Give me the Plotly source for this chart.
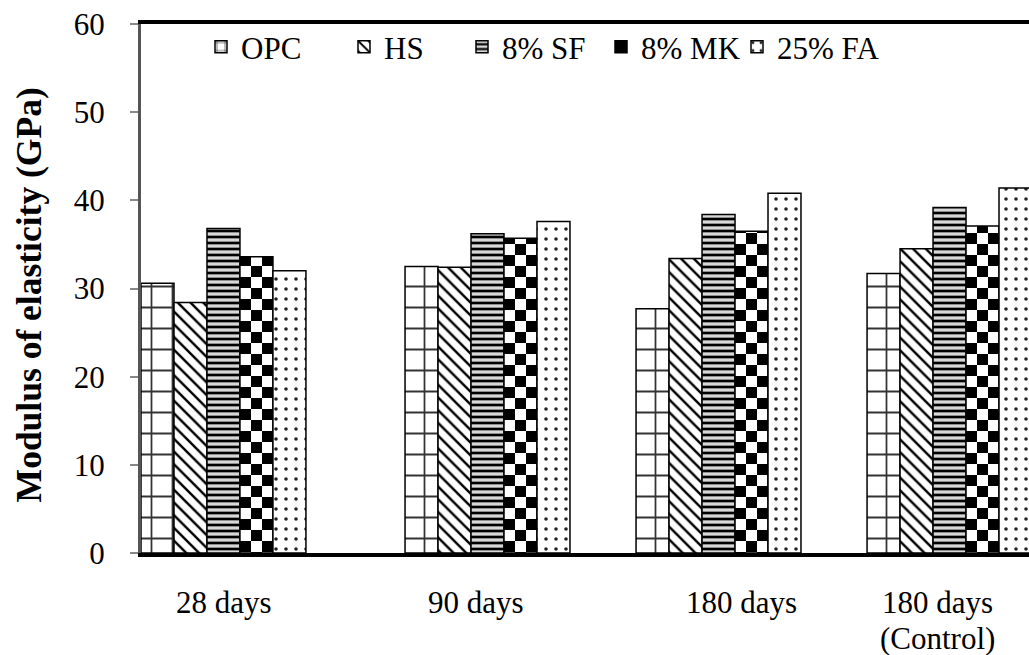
import plotly.graph_objects as go

# Curing ages (category labels) and modulus of elasticity per binder, GPa
categories = ["28 days", "90 days", "180 days", "180 days<br>(Control)"]
series_names = ["OPC", "HS", "8% SF", "8% MK", "25% FA"]
opc = [30.6, 32.5, 27.7, 31.7]
hs = [28.4, 32.4, 33.4, 34.5]
sf = [36.8, 36.2, 38.4, 39.2]
mk = [33.6, 35.7, 36.5, 37.1]
fa = [32.0, 37.6, 40.8, 41.4]
y_ticks = [0, 10, 20, 30, 40, 50, 60]

# Layout: where each age group sits on the x axis, and where its label goes
group_centres = [0.857, 2, 3, 4]
label_centres = [0.86, 1.95, 3.10, 3.95]
# Left edge (px) of each legend entry along the top of the plot
legend_left_px = [201, 344, 462, 601, 737]

FONT = "Liberation Serif, Times New Roman, serif"
PLOT_L, PLOT_W, PLOT_T, PLOT_H = 141, 888, 24, 529
LABEL_Y0, LABEL_DY = 602, 36  # px centre of first label line, line pitch

patterns = [
    dict(shape="+", size=21, solidity=0.16, fgcolor="#333333", bgcolor="white", fgopacity=1),
    dict(shape="\\", size=9, solidity=0.27, fgcolor="black", bgcolor="white", fgopacity=1),
    dict(shape="-", size=6, solidity=0.45, fgcolor="black", bgcolor="#d8d8d8", fgopacity=1),
    dict(path="M0,0H11V11H0Z M11,11H22V22H11Z", size=22, fgcolor="black",
         bgcolor="white", fgopacity=1, solidity=1),
    dict(shape=".", size=10, solidity=0.1, fgcolor="#222222", bgcolor="white", fgopacity=1),
]

fig = go.Figure()
legend_ids = ["legend", "legend2", "legend3", "legend4", "legend5"]
for name, vals, pat, lg in zip(series_names, [opc, hs, sf, mk, fa], patterns, legend_ids):
    fig.add_trace(go.Bar(
        x=group_centres, y=vals, name=name, legend=lg,
        marker=dict(color="white", pattern=pat,
                    line=dict(color="black", width=1.5)),
    ))

legend_style = dict(orientation="h", xanchor="left", y=0.9565, yanchor="middle",
                    bgcolor="rgba(0,0,0,0)", font=dict(family=FONT, size=31),
                    itemwidth=30)
legends = {lg: dict(legend_style, x=(px - PLOT_L) / PLOT_W)
           for lg, px in zip(legend_ids, legend_left_px)}


def paper_y(px):
    return (PLOT_T + PLOT_H - px) / PLOT_H


# Category labels under the axis, one annotation per text line
annotations = []
for cat, xc in zip(categories, label_centres):
    for i, line in enumerate(cat.split("<br>")):
        annotations.append(dict(text=line, xref="x", yref="paper", x=xc,
                                y=paper_y(LABEL_Y0 + i * LABEL_DY),
                                xanchor="center", yanchor="middle", showarrow=False,
                                font=dict(family=FONT, size=31, color="black")))

annotations.append(dict(text="<b>Modulus of elasticity (GPa)</b>", textangle=-90,
                        xref="paper", yref="paper", x=(29 - PLOT_L) / PLOT_W, y=0.487,
                        xanchor="center", yanchor="middle", showarrow=False,
                        font=dict(family=FONT, size=35.5, color="black")))

fig.update_layout(
    width=1029, height=655,
    margin=dict(l=PLOT_L, r=0, t=PLOT_T, b=655 - PLOT_T - PLOT_H, autoexpand=False),
    paper_bgcolor="white", plot_bgcolor="white",
    barmode="group", bargap=0.286, bargroupgap=0,
    font=dict(family=FONT, size=31, color="black"),
    showlegend=True,
    xaxis=dict(range=[0.5, 4.344], showticklabels=False,
               showline=True, linecolor="black", linewidth=4, mirror=True,
               ticks="", showgrid=False, zeroline=False, automargin=False),
    yaxis=dict(range=[0, 60], tickvals=y_ticks, showline=True, linecolor="#555555",
               linewidth=3, ticks="outside", ticklen=8, tickwidth=1.5, tickcolor="#888888",
               showgrid=False, zeroline=False, ticklabelstandoff=19, automargin=False,
               tickfont=dict(family=FONT, size=31)),
    annotations=annotations,
    **legends,
)

fig.write_html("out.html")
